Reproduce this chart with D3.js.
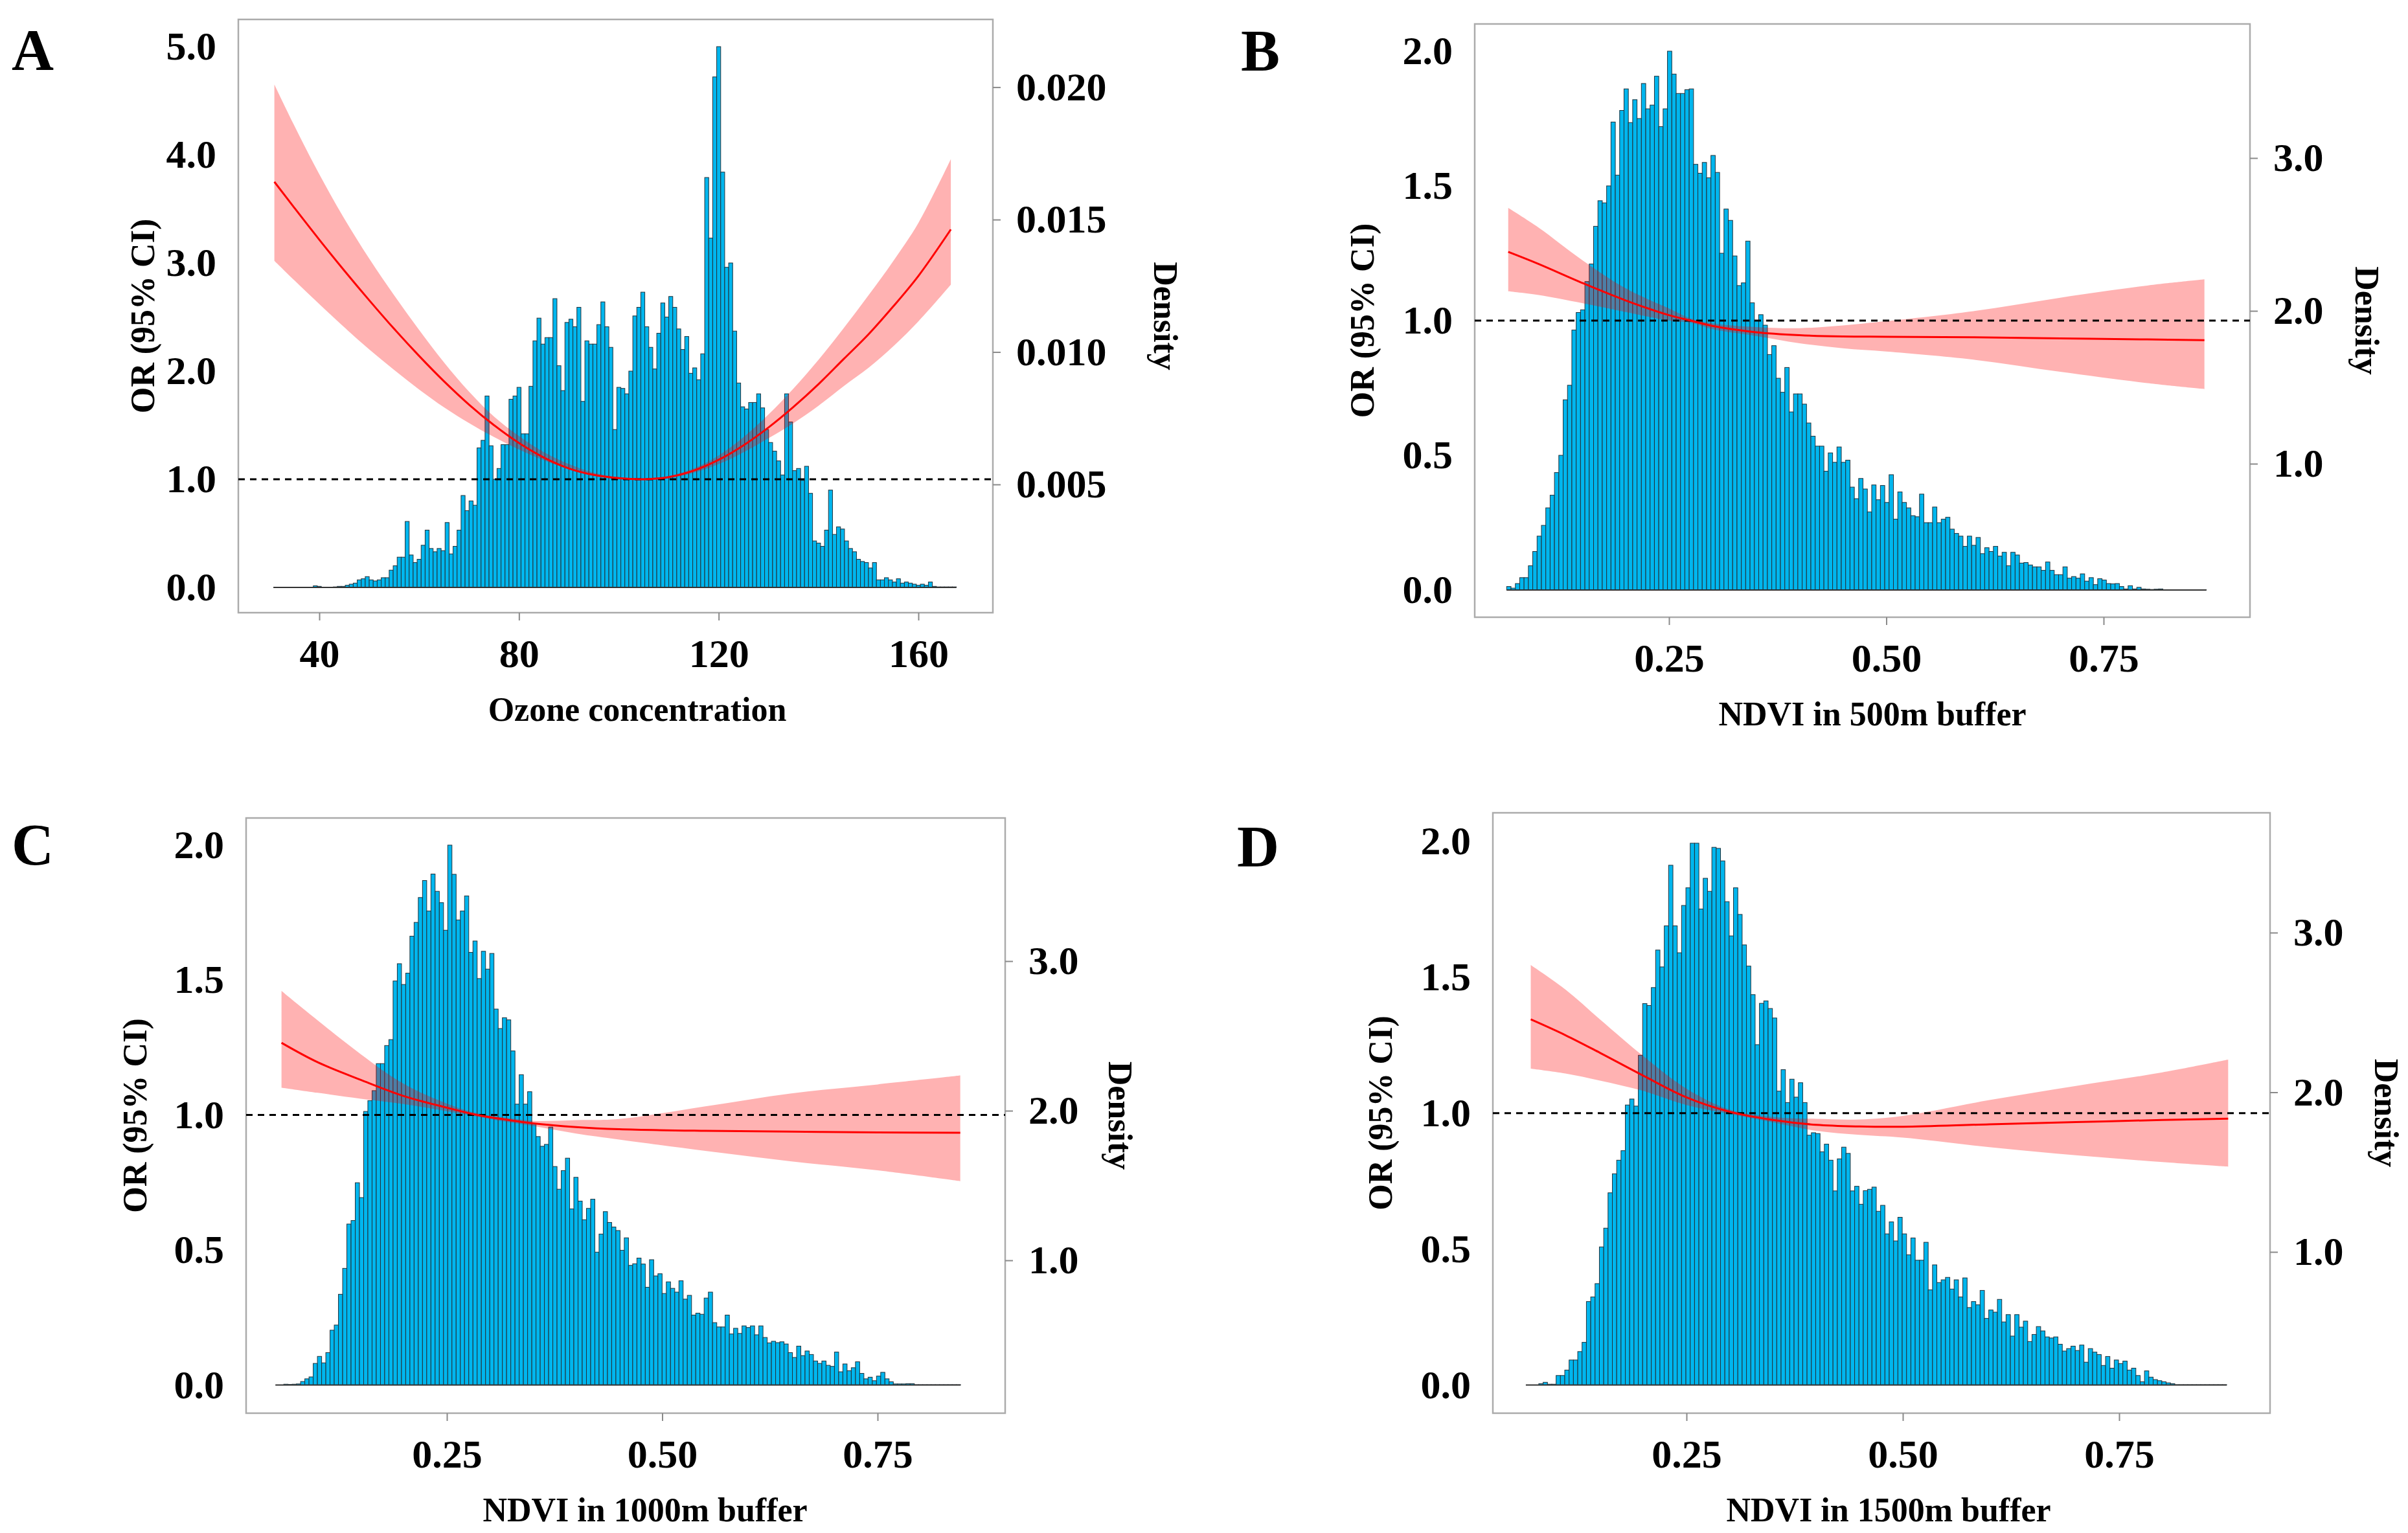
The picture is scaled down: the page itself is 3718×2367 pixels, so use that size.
<!DOCTYPE html>
<html lang="en">
<head>
<meta charset="UTF-8" />
<title>OR (95% CI) and density</title>
<style>
  body { margin: 0; background: #fff; }
  svg { display: block; }
  text { font-family: "Liberation Serif", "Times New Roman", serif; font-weight: bold; fill: #000; }
  .tick text { font-size: 62px; }
  .title { font-size: 52px; }
  .letter { font-size: 90px; }
</style>
</head>
<body>
<script src="https://cdn.jsdelivr.net/npm/d3@7"></script>
<script>
// ---------- data ----------

// A: ozone
const ozoneBinStart = 30.8, ozoneBinWidth = 0.8;
const ozoneHist = [
  0,0,0,0,0,0,0,0,0,0,
  0.015,0.01,0,0,0,0.005,0.01,0.01,0.02,0.03,
  0.04,0.07,0.08,0.10,0.07,0.06,0.07,0.09,0.09,0.16,
  0.20,0.28,0.28,0.61,0.30,0.23,0.26,0.39,0.53,0.36,
  0.33,0.36,0.34,0.60,0.31,0.38,0.53,0.85,0.71,0.80,
  0.76,1.29,1.36,1.77,1.31,1.00,1.10,1.32,1.32,1.74,
  1.77,1.85,1.42,1.42,1.86,2.28,2.49,2.25,2.31,2.31,
  2.67,2.05,1.82,2.45,2.48,2.41,2.59,1.72,2.28,2.25,
  2.25,2.43,2.64,2.41,2.22,1.46,1.85,1.84,1.79,2.00,
  2.51,2.59,2.73,2.41,2.22,2.02,2.35,2.63,2.50,2.69,
  2.59,2.39,2.20,2.32,1.98,2.03,1.92,2.16,3.79,3.23,
  4.72,5.00,3.84,2.96,3.00,2.37,1.89,1.67,1.65,1.71,
  1.71,1.79,1.66,1.46,1.34,1.26,1.17,1.04,1.79,1.53,
  1.08,1.10,0.99,1.12,0.87,0.43,0.41,0.38,0.53,0.90,
  0.49,0.56,0.54,0.43,0.36,0.33,0.26,0.24,0.23,0.18,
  0.23,0.07,0.07,0.09,0.07,0.05,0.08,0.04,0.05,0.04,
  0.03,0.02,0.03,0.02,0.05,0.01,0.005,0.005,0.005,0.005,0.005
];
const ozoneCurveX = [31, 35, 40, 45, 50, 55, 60, 65, 70, 75, 80, 85, 90, 95, 100, 105, 110, 115, 120, 125, 130, 135, 140, 145, 150, 155, 160, 166.5];
const ozoneOR     = [3.75, 3.51, 3.215, 2.93, 2.655, 2.39, 2.14, 1.905, 1.69, 1.50, 1.335, 1.20, 1.10, 1.04, 1.01, 1.00, 1.02, 1.08, 1.18, 1.315, 1.48, 1.67, 1.88, 2.11, 2.34, 2.60, 2.88, 3.31];
const ozoneUpper  = [4.65, 4.27, 3.82, 3.41, 3.04, 2.70, 2.38, 2.08, 1.81, 1.58, 1.40, 1.25, 1.14, 1.06, 1.02, 1.01, 1.03, 1.10, 1.22, 1.39, 1.60, 1.84, 2.105, 2.395, 2.70, 3.02, 3.37, 3.96];
const ozoneLower  = [3.02, 2.84, 2.62, 2.405, 2.20, 2.01, 1.83, 1.665, 1.52, 1.39, 1.275, 1.175, 1.095, 1.035, 1.00, 0.99, 1.01, 1.06, 1.14, 1.25, 1.38, 1.52, 1.68, 1.86, 2.03, 2.23, 2.46, 2.80];
const ozoneTicks = [40, 80, 120, 160];
const ozoneORTicks = [0, 1, 2, 3, 4, 5];
const ozoneDensityTicks = [0.005, 0.010, 0.015, 0.020];

// B: NDVI 500m
const ndvi500BinStart = 0.0632, ndvi500BinWidth = 0.005;
const ndvi500Hist = [
  0.013,0.007,0.024,0.046,0.046,0.09,0.143,0.20,0.24,0.305,
  0.352,0.436,0.50,0.706,0.76,0.965,1.03,1.04,1.145,1.21,
  1.35,1.445,1.437,1.50,1.737,1.54,1.78,1.86,1.735,1.82,
  1.75,1.88,1.786,1.80,1.907,1.72,1.786,2.0,1.915,1.843,
  1.843,1.857,1.86,1.58,1.547,1.587,1.53,1.613,1.55,1.25,
  1.414,1.372,1.24,1.13,1.14,1.295,1.066,1.0,1.022,0.983,
  0.874,0.907,0.786,0.734,0.826,0.661,0.728,0.728,0.69,0.62,
  0.571,0.534,0.534,0.441,0.509,0.474,0.531,0.474,0.482,0.382,
  0.339,0.414,0.375,0.29,0.39,0.335,0.388,0.325,0.428,0.263,
  0.364,0.325,0.305,0.276,0.272,0.356,0.25,0.25,0.308,0.25,
  0.263,0.27,0.226,0.21,0.20,0.162,0.20,0.166,0.195,0.135,
  0.157,0.143,0.162,0.126,0.14,0.09,0.14,0.13,0.10,0.102,
  0.093,0.086,0.086,0.073,0.104,0.073,0.057,0.057,0.086,0.044,
  0.05,0.044,0.06,0.033,0.046,0.02,0.042,0.037,0.024,0.023,
  0.024,0.013,0.004,0.016,0.004,0.01,0.004,0.003,0.002,0.003,
  0.004,0.001,0.001,0.001,0.001,0.001,0.001,0.001,0.001,0.001,0.001
];
const ndvi500CurveX = [0.065, 0.10, 0.15, 0.20, 0.25, 0.275, 0.30, 0.35, 0.40, 0.45, 0.50, 0.60, 0.70, 0.80, 0.866];
const ndvi500OR     = [1.255, 1.21, 1.14, 1.075, 1.02, 1.0, 0.98, 0.957, 0.946, 0.941, 0.940, 0.938, 0.934, 0.930, 0.927];
const ndvi500Upper  = [1.418, 1.345, 1.225, 1.12, 1.045, 1.008, 0.99, 0.976, 0.972, 0.982, 0.998, 1.035, 1.085, 1.13, 1.153];
const ndvi500Lower  = [1.109, 1.095, 1.065, 1.032, 1.0, 0.992, 0.968, 0.943, 0.916, 0.897, 0.885, 0.855, 0.81, 0.768, 0.746];

// C: NDVI 1000m
const ndvi1000BinStart = 0.0509, ndvi1000BinWidth = 0.00488;
const ndvi1000Hist = [
  0,0,0.003,0.002,0.003,0.004,0.013,0.023,0.03,0.08,
  0.106,0.082,0.12,0.203,0.222,0.336,0.432,0.596,0.609,0.749,
  0.694,1.013,1.053,1.09,1.19,1.19,1.257,1.279,1.496,1.56,
  1.483,1.525,1.662,1.713,1.805,1.868,1.755,1.892,1.828,1.786,
  1.684,1.999,1.891,1.722,1.755,1.811,1.602,1.644,1.505,1.606,
  1.54,1.598,1.392,1.32,1.36,1.352,1.237,1.04,1.149,1.04,
  1.086,0.967,0.92,0.884,0.891,0.955,0.809,0.725,0.794,0.84,
  0.652,0.769,0.681,0.612,0.654,0.688,0.492,0.559,0.642,0.602,
  0.585,0.572,0.499,0.545,0.443,0.449,0.47,0.448,0.362,0.464,
  0.404,0.412,0.339,0.382,0.358,0.344,0.386,0.318,0.332,0.259,
  0.266,0.262,0.322,0.344,0.231,0.215,0.215,0.259,0.189,0.21,
  0.191,0.219,0.213,0.219,0.186,0.219,0.176,0.156,0.162,0.157,
  0.16,0.152,0.12,0.102,0.144,0.109,0.126,0.113,0.089,0.08,
  0.089,0.073,0.069,0.122,0.049,0.078,0.053,0.064,0.086,0.043,
  0.023,0.029,0.016,0.033,0.047,0.023,0.012,0.004,0.004,0.004,
  0.005,0.005,0.001,0.001,0.001,0.001,0.001,0.001,0.001,0.001,
  0.001,0.001,0.001
];
const ndvi1000CurveX = [0.058, 0.10, 0.15, 0.20, 0.25, 0.285, 0.32, 0.35, 0.40, 0.45, 0.55, 0.65, 0.75, 0.846];
const ndvi1000OR     = [1.267, 1.195, 1.13, 1.07, 1.027, 1.0, 0.982, 0.969, 0.955, 0.947, 0.941, 0.938, 0.935, 0.934];
const ndvi1000Upper  = [1.459, 1.35, 1.225, 1.115, 1.042, 1.006, 0.989, 0.978, 0.981, 0.985, 1.032, 1.08, 1.113, 1.146];
const ndvi1000Lower  = [1.101, 1.082, 1.06, 1.04, 1.014, 0.994, 0.974, 0.959, 0.931, 0.909, 0.867, 0.828, 0.795, 0.755];

// D: NDVI 1500m
const ndvi1500BinStart = 0.0643, ndvi1500BinWidth = 0.005;
const ndvi1500Hist = [
  0,0,0,0.005,0.01,0.003,0.003,0.035,0.035,0.055,
  0.092,0.092,0.123,0.157,0.307,0.324,0.373,0.508,0.577,0.707,
  0.777,0.827,0.862,1.03,1.052,1.026,1.213,1.403,1.396,1.462,
  1.60,1.538,1.689,1.912,1.689,1.59,1.764,1.829,1.993,1.993,
  1.751,1.864,1.816,1.978,1.974,1.928,1.778,1.652,1.829,1.731,
  1.619,1.541,1.436,1.252,1.404,1.413,1.385,1.35,1.081,1.16,
  1.039,1.125,1.059,1.112,1.039,0.919,0.928,0.925,0.858,0.886,
  0.827,0.714,0.832,0.875,0.852,0.714,0.731,0.665,0.715,0.72,
  0.728,0.639,0.661,0.556,0.60,0.53,0.617,0.556,0.479,0.541,
  0.459,0.459,0.525,0.35,0.442,0.377,0.387,0.396,0.353,0.387,
  0.324,0.394,0.285,0.307,0.295,0.348,0.245,0.276,0.268,0.315,
  0.232,0.259,0.18,0.259,0.213,0.235,0.16,0.186,0.215,0.199,
  0.177,0.173,0.177,0.15,0.125,0.134,0.143,0.127,0.147,0.084,
  0.134,0.121,0.112,0.072,0.105,0.062,0.092,0.079,0.088,0.055,
  0.062,0.035,0.012,0.052,0.029,0.02,0.016,0.012,0.008,0.005,
  0.001,0.001,0.001,0.001,0.001,0.001,0.001,0.001,0.001,0.001,
  0.001,0.001
];
const ndvi1500CurveX = [0.07, 0.11, 0.15, 0.20, 0.25, 0.30, 0.35, 0.40, 0.45, 0.50, 0.60, 0.70, 0.80, 0.876];
const ndvi1500OR     = [1.345, 1.287, 1.222, 1.138, 1.058, 1.005, 0.975, 0.957, 0.951, 0.950, 0.959, 0.967, 0.975, 0.980];
const ndvi1500Upper  = [1.545, 1.455, 1.345, 1.21, 1.09, 1.013, 0.986, 0.979, 0.977, 0.99, 1.048, 1.1, 1.15, 1.197];
const ndvi1500Lower  = [1.164, 1.146, 1.12, 1.082, 1.03, 0.997, 0.966, 0.935, 0.92, 0.91, 0.875, 0.845, 0.82, 0.803];

const ndviTicks = [0.25, 0.50, 0.75];
const ndviORTicks = [0.0, 0.5, 1.0, 1.5, 2.0];
const ndviDensityTicks = [1.0, 2.0, 3.0];

// ---------- layout ----------
const W = 3718, H = 2367;

const panels = [
  {
    letter: "A", letterPos: [18, 108], box: [368, 30, 1533, 946],
    xDomain: [40, 160], xRange: [493, 1418], yDomain: [0, 5], yRange: [907, 72],
    rDomain: [0.005, 0.020], rRange: [748, 134.6],
    binStart: ozoneBinStart, binWidth: ozoneBinWidth, hist: ozoneHist,
    cx: ozoneCurveX, or: ozoneOR, hi: ozoneUpper, lo: ozoneLower,
    xTicks: ozoneTicks, yTicks: ozoneORTicks, rTicks: ozoneDensityTicks,
    xFmt: d3.format("d"), yFmt: d3.format(".1f"), rFmt: d3.format(".3f"),
    xTitle: "Ozone concentration", xTitleX: 984, orX: 220, denX: 1800
  },
  {
    letter: "B", letterPos: [1916, 109], box: [2277, 37, 3474, 953],
    xDomain: [0.25, 0.75], xRange: [2577, 3248], yDomain: [0, 2], yRange: [911, 79],
    rDomain: [1, 3], rRange: [716, 244],
    binStart: ndvi500BinStart, binWidth: ndvi500BinWidth, hist: ndvi500Hist,
    cx: ndvi500CurveX, or: ndvi500OR, hi: ndvi500Upper, lo: ndvi500Lower,
    xTicks: ndviTicks, yTicks: ndviORTicks, rTicks: ndviDensityTicks,
    xFmt: d3.format(".2f"), yFmt: d3.format(".1f"), rFmt: d3.format(".1f"),
    xTitle: "NDVI in 500m buffer", xTitleX: 2891, orX: 2103, denX: 3655
  },
  {
    letter: "C", letterPos: [18, 1335], box: [380, 1263, 1552, 2182],
    xDomain: [0.25, 0.75], xRange: [690, 1355], yDomain: [0, 2], yRange: [2138.5, 1304.5],
    rDomain: [1, 3], rRange: [1946, 1484],
    binStart: ndvi1000BinStart, binWidth: ndvi1000BinWidth, hist: ndvi1000Hist,
    cx: ndvi1000CurveX, or: ndvi1000OR, hi: ndvi1000Upper, lo: ndvi1000Lower,
    xTicks: ndviTicks, yTicks: ndviORTicks, rTicks: ndviDensityTicks,
    xFmt: d3.format(".2f"), yFmt: d3.format(".1f"), rFmt: d3.format(".1f"),
    xTitle: "NDVI in 1000m buffer", xTitleX: 996, orX: 208, denX: 1730
  },
  {
    letter: "D", letterPos: [1910, 1338], box: [2305, 1255, 3505, 2182],
    xDomain: [0.25, 0.75], xRange: [2604, 3272], yDomain: [0, 2], yRange: [2138.5, 1299],
    rDomain: [1, 3], rRange: [1933, 1440],
    binStart: ndvi1500BinStart, binWidth: ndvi1500BinWidth, hist: ndvi1500Hist,
    cx: ndvi1500CurveX, or: ndvi1500OR, hi: ndvi1500Upper, lo: ndvi1500Lower,
    xTicks: ndviTicks, yTicks: ndviORTicks, rTicks: ndviDensityTicks,
    xFmt: d3.format(".2f"), yFmt: d3.format(".1f"), rFmt: d3.format(".1f"),
    xTitle: "NDVI in 1500m buffer", xTitleX: 2916, orX: 2131, denX: 3685
  }
];

const svg = d3.select("body").append("svg")
  .attr("width", W)
  .attr("height", H)
  .attr("viewBox", `0 0 ${W} ${H}`);

panels.forEach(drawPanel);

function drawPanel(p) {
  const [bx0, by0, bx1, by1] = p.box;
  const g = svg.append("g");

  const x = d3.scaleLinear().domain(p.xDomain).range(p.xRange);
  const y = d3.scaleLinear().domain(p.yDomain).range(p.yRange);
  const yr = d3.scaleLinear().domain(p.rDomain).range(p.rRange);

  // frame
  g.append("rect")
    .attr("x", bx0).attr("y", by0)
    .attr("width", bx1 - bx0).attr("height", by1 - by0)
    .attr("fill", "none")
    .attr("stroke", "#ababab")
    .attr("stroke-width", 2.5);

  // histogram
  const bins = p.hist.map((h, i) => ({
    x0: p.binStart + i * p.binWidth,
    x1: p.binStart + (i + 1) * p.binWidth,
    h: h
  }));
  g.append("g").selectAll("rect")
    .data(bins.filter(d => d.h > 0))
    .join("rect")
    .attr("x", d => x(d.x0))
    .attr("width", d => x(d.x1) - x(d.x0))
    .attr("y", d => y(d.h))
    .attr("height", d => y(0) - y(d.h))
    .attr("fill", "#00b6ee")
    .attr("stroke", "#22313a")
    .attr("stroke-width", 1);

  g.append("line")
    .attr("x1", x(bins[0].x0)).attr("x2", x(bins[bins.length - 1].x1))
    .attr("y1", y(0)).attr("y2", y(0))
    .attr("stroke", "#333").attr("stroke-width", 2);

  // confidence band and curve
  const pts = p.cx.map((v, i) => ({ v: v, or: p.or[i], lo: p.lo[i], hi: p.hi[i] }));
  const smooth = d3.curveCatmullRom.alpha(0.5);

  g.append("path").datum(pts)
    .attr("d", d3.area()
      .x(d => x(d.v))
      .y0(d => y(d.lo))
      .y1(d => y(d.hi))
      .curve(smooth))
    .attr("fill", "#ff0000")
    .attr("fill-opacity", 0.3);

  g.append("line")
    .attr("x1", bx0).attr("x2", bx1)
    .attr("y1", y(1)).attr("y2", y(1))
    .attr("stroke", "#000")
    .attr("stroke-width", 3)
    .attr("stroke-dasharray", "10,8");

  g.append("path").datum(pts)
    .attr("d", d3.line()
      .x(d => x(d.v))
      .y(d => y(d.or))
      .curve(smooth))
    .attr("fill", "none")
    .attr("stroke", "#ff0000")
    .attr("stroke-width", 3);

  // axes
  const gx = g.append("g")
    .attr("transform", `translate(0,${by1})`)
    .call(d3.axisBottom(x).tickValues(p.xTicks).tickFormat(p.xFmt).tickSize(12).tickPadding(28));
  const gy = g.append("g")
    .attr("transform", `translate(${bx0},0)`)
    .call(d3.axisLeft(y).tickValues(p.yTicks).tickFormat(p.yFmt).tickSize(0).tickPadding(34));
  const gr = g.append("g")
    .attr("transform", `translate(${bx1},0)`)
    .call(d3.axisRight(yr).tickValues(p.rTicks).tickFormat(p.rFmt).tickSize(12).tickPadding(24));

  [gx, gy, gr].forEach(a => {
    a.attr("font-size", null).attr("font-family", null);
    a.select(".domain").remove();
    a.selectAll(".tick line").attr("stroke", "#8a8a8a").attr("stroke-width", 2);
  });

  // titles
  g.append("text")
    .attr("class", "title")
    .attr("x", p.xTitleX).attr("y", by1 + 167)
    .attr("text-anchor", "middle")
    .text(p.xTitle);

  const midY = (by0 + by1) / 2;
  g.append("text")
    .attr("class", "title")
    .attr("transform", `translate(${p.orX},${midY}) rotate(-90)`)
    .attr("text-anchor", "middle")
    .attr("dy", "0.35em")
    .text("OR (95% CI)");

  g.append("text")
    .attr("class", "title")
    .attr("transform", `translate(${p.denX},${midY}) rotate(90)`)
    .attr("text-anchor", "middle")
    .attr("dy", "0.35em")
    .text("Density");

  g.append("text")
    .attr("class", "letter")
    .attr("x", p.letterPos[0]).attr("y", p.letterPos[1])
    .text(p.letter);
}
</script>
</body>
</html>
